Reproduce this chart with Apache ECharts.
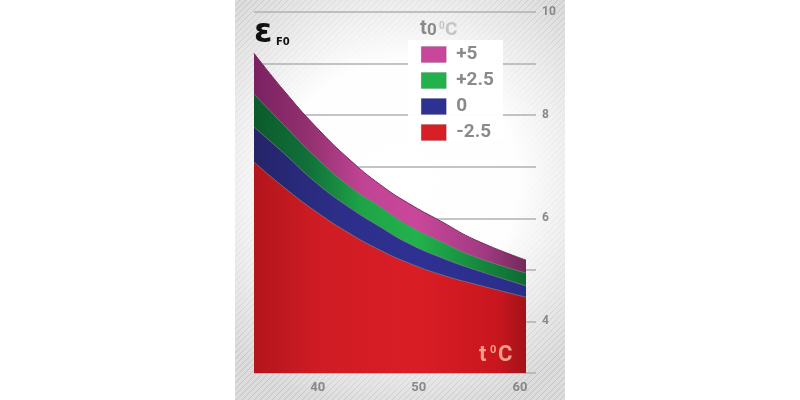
<!DOCTYPE html>
<html>
<head>
<meta charset="utf-8">
<script src="https://cdn.jsdelivr.net/npm/echarts@6/dist/echarts.min.js"></script>
<style>html,body{margin:0;padding:0;background:#fff;}#c{width:800px;height:400px;}</style>
</head>
<body>
<div id="c"></div>
<script>
// Data
const tempX = [33.7, 36.6, 39.9, 43.2, 46.2, 48.9, 52.3, 55.6, 60.6];
const seriesNames = ['+5', '+2.5', '0', '-2.5'];
const plus5   = [9.20, 8.49, 7.76, 7.13, 6.65, 6.30, 5.93, 5.58, 5.19];
const plus2_5 = [8.41, 7.82, 7.17, 6.61, 6.22, 5.87, 5.54, 5.25, 4.94];
const zero    = [7.77, 7.27, 6.68, 6.20, 5.83, 5.52, 5.23, 5.00, 4.69];
const minus2_5= [7.09, 6.61, 6.12, 5.70, 5.38, 5.14, 4.90, 4.72, 4.47];
const xTickLabels = [40, 50, 60];
const yTickLabels = [4, 6, 8, 10];

const chart = echarts.init(document.getElementById('c'), null, {renderer: 'canvas'});

// stripe pattern
const pc = document.createElement('canvas');
pc.width = 6; pc.height = 6;
const px = pc.getContext('2d');
px.strokeStyle = 'rgba(0,0,0,0.10)';
px.lineWidth = 1;
px.beginPath();
px.moveTo(0, 6); px.lineTo(6, 0);
px.moveTo(-1, 1); px.lineTo(1, -1);
px.moveTo(5, 7); px.lineTo(7, 5);
px.stroke();

function hgrad(stops) {
  return new echarts.graphic.LinearGradient(0, 0, 1, 0, stops.map(c => ({offset: c[0], color: c[1]})));
}

const bandColors = ['#c9479a', '#22b24c', '#2e3192', '#d71f26'];
const areaFills = [
  hgrad([[0, '#7a2162'], [0.2, '#93306f'], [0.4, '#c04494'], [0.6, '#c9479a'], [0.85, '#a03a80'], [1, '#722a5a']]),
  hgrad([[0, '#0c5a2b'], [0.2, '#11703a'], [0.4, '#1ea447'], [0.6, '#22b24c'], [0.85, '#15843c'], [1, '#0f6a32']]),
  hgrad([[0, '#242468'], [0.3, '#2c2e88'], [0.6, '#2e3192'], [1, '#2a2d88']]),
  hgrad([[0, '#b3151c'], [0.25, '#d01c24'], [0.6, '#d91d25'], [0.9, '#c8161e'], [1, '#a31218']])
];
const dataSets = [plus5, plus2_5, zero, minus2_5];

const series = dataSets.map((arr, i) => ({
  name: seriesNames[i],
  type: 'line',
  smooth: true,
  showSymbol: false,
  symbol: 'none',
  data: tempX.map((x, j) => [x, arr[j]]),
  lineStyle: {width: 1, color: i === 0 ? '#7a2a60' : 'rgba(130,130,130,0.7)'},
  itemStyle: {color: bandColors[i]},
  areaStyle: {color: areaFills[i], opacity: 1, origin: 'start'},
  z: 2 + i,
  silent: true
}));

const option = {
  animation: false,
  backgroundColor: '#ffffff',
  grid: {left: 254, right: 274, top: 12, bottom: 27},
  xAxis: {
    type: 'value', min: 33.7, max: 60.6,
    axisLine: {show: false}, axisTick: {show: false}, splitLine: {show: false},
    axisLabel: {
      customValues: xTickLabels,
      color: '#888', fontWeight: 'bold', fontSize: 13, fontFamily: 'Roboto', margin: 8
    }
  },
  yAxis: {
    type: 'value', position: 'right', min: 3, max: 10, interval: 1,
    axisLine: {show: false},
    axisTick: {show: true, length: 10, lineStyle: {color: '#b0b0b0', width: 1.5}},
    splitLine: {show: true, lineStyle: {color: '#b0b0b0', width: 1.5}},
    axisLabel: {
      formatter: v => (yTickLabels.indexOf(v) >= 0 ? String(v) : ''),
      color: '#888', fontWeight: 'bold', fontSize: 12, fontFamily: 'Roboto', margin: 16
    }
  },
  legend: {
    orient: 'vertical', left: 421, top: 45, itemWidth: 25, itemHeight: 16, itemGap: 7,
    icon: 'rect', padding: 0,
    data: seriesNames.map((n, i) => ({name: n, itemStyle: {color: bandColors[i], borderColor: 'rgba(0,0,0,0.25)', borderWidth: 0.5}})),
    textStyle: {color: '#8a8a8a', fontSize: 19, fontWeight: 'bold', fontFamily: 'Roboto', padding: [0, 0, 0, 5]},
    selectedMode: false, z: 5
  },
  graphic: [
    {type: 'rect', z: -10, shape: {x: 235, y: 0, width: 330, height: 400}, style: {fill: '#dcdcdc'}},
    {type: 'rect', z: -9, shape: {x: 235, y: 0, width: 330, height: 400},
      style: {fill: {image: pc, repeat: 'repeat'}}},
    {type: 'rect', z: -8, shape: {x: 235, y: 0, width: 330, height: 400},
      style: {fill: new echarts.graphic.RadialGradient(0.5, 0.45, 0.72, [
        {offset: 0, color: 'rgba(255,255,255,1)'}, {offset: 0.5, color: 'rgba(255,255,255,0.97)'},
        {offset: 1, color: 'rgba(255,255,255,0)'}])}},
    {type: 'rect', z: 1, shape: {x: 408, y: 40, width: 95, height: 100}, style: {fill: 'rgba(255,255,255,0.97)'}},
    {type: 'text', z: 6, left: 420, top: 19, style: {text: 't', fill: '#8a8a8a', font: 'bold 20px Roboto'}},
    {type: 'text', z: 6, left: 427, top: 22, style: {text: '0', fill: '#8a8a8a', font: 'bold 17px Roboto'}},
    {type: 'text', z: 6, left: 439, top: 21, style: {text: '0', fill: '#c4c4c4', font: 'bold 10px Roboto'}},
    {type: 'text', z: 6, left: 445, top: 21, style: {text: 'C', fill: '#c4c4c4', font: 'bold 19px Roboto'}},
    {type: 'text', z: 6, left: 254, top: 17, style: {text: 'ε', fill: '#111', font: 'bold 33px "DejaVu Sans"'}},
    {type: 'text', z: 6, left: 276, top: 37, style: {text: 'F0', fill: '#111', font: 'bold 10px "DejaVu Sans"'}},
    {type: 'text', z: 10, left: 479, top: 344, style: {text: 't', fill: '#f2a08a', font: 'bold 22px Roboto'}},
    {type: 'text', z: 10, left: 490, top: 345, style: {text: '0', fill: '#f2a08a', font: 'bold 11px Roboto'}},
    {type: 'text', z: 10, left: 498, top: 344, style: {text: 'C', fill: '#f2a08a', font: 'bold 22px Roboto'}}
  ],
  series: series
};
chart.setOption(option);
</script>
</body>
</html>
